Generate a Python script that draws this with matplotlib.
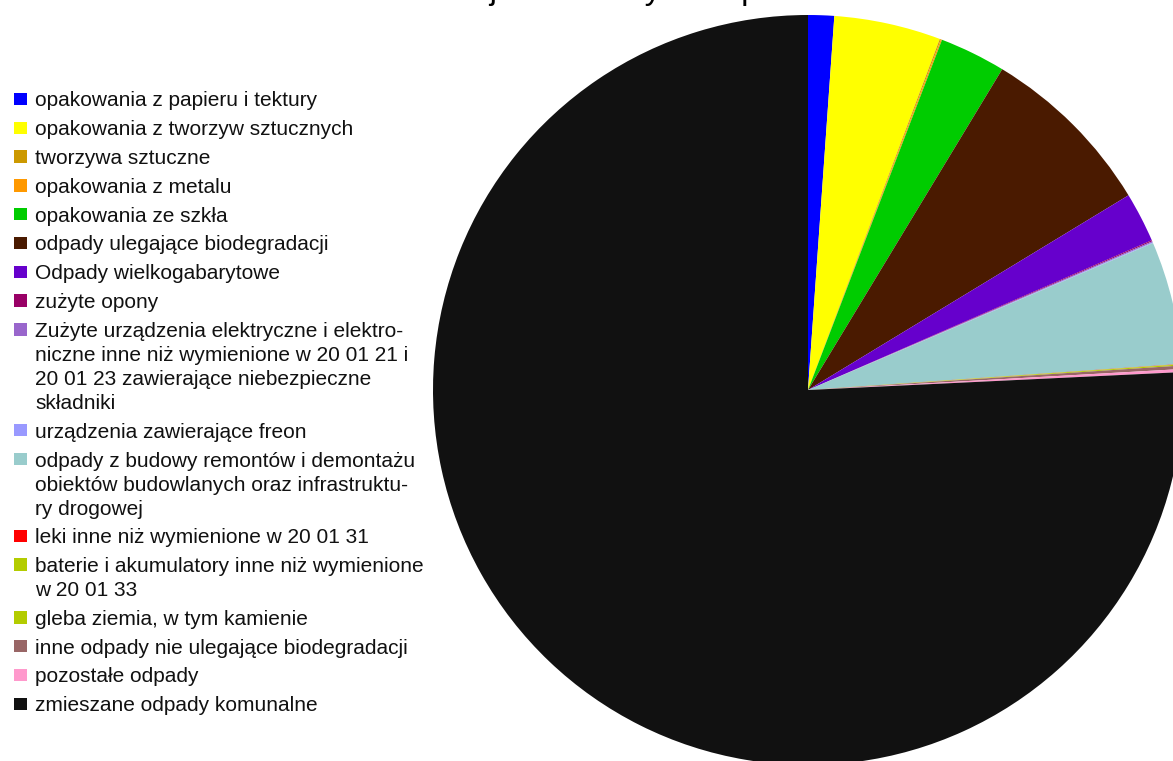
import matplotlib.pyplot as plt
from matplotlib.patches import Rectangle

plt.rcParams['font.family'] = ['Liberation Sans', 'DejaVu Sans']

title = "Rodzaje odebranych odpadów"

labels = [
    "opakowania z papieru i tektury",
    "opakowania z tworzyw sztucznych",
    "tworzywa sztuczne",
    "opakowania z metalu",
    "opakowania ze szkła",
    "odpady ulegające biodegradacji",
    "Odpady wielkogabarytowe",
    "zużyte opony",
    "Zużyte urządzenia elektryczne i elektro-\nniczne inne niż wymienione w 20 01 21 i\n20 01 23 zawierające niebezpieczne\nskładniki",
    "urządzenia zawierające freon",
    "odpady z budowy remontów i demontażu\nobiektów budowlanych oraz infrastruktu-\nry drogowej",
    "leki inne niż wymienione w 20 01 31",
    "baterie i akumulatory inne niż wymienione\nw 20 01 33",
    "gleba ziemia, w tym kamienie",
    "inne odpady nie ulegające biodegradacji",
    "pozostałe odpady",
    "zmieszane odpady komunalne",
]

# udział procentowy
values = [1.12, 4.6, 0.05, 0.05, 2.85, 7.65, 2.15, 0.05, 0.05, 0.03,
          5.3, 0.01, 0.01, 0.05, 0.15, 0.13, 75.8]

colors = ["#0000ff", "#ffff00", "#cc9900", "#ff9900", "#00cc00", "#4a1a00",
          "#6600cc", "#990066", "#9966cc", "#9999ff", "#99cccc", "#ff0000",
          "#b3cc00", "#b3cc00", "#996666", "#ff99cc", "#111111"]

W, H = 1173, 761
fig = plt.figure(figsize=(W / 100, H / 100), dpi=100)

# pie: center (808, 390) px, radius 375 px
cx, cy, r = 808, 390, 375
ax = fig.add_axes([(cx - r) / W, (H - cy - r) / H, 2 * r / W, 2 * r / H])
ax.pie(values, colors=colors, startangle=90, counterclock=False,
       wedgeprops=dict(linewidth=0, antialiased=True))
ax.set_xlim(-1, 1)
ax.set_ylim(-1, 1)
ax.set_aspect('auto')
ax.axis('off')

# title sits above the top edge, only descenders visible (as in the source)
fig.text(395 / W, 1 + 1 / H, title, fontsize=23.6, ha='left', va='baseline')

# legend drawn by hand so markers align with first line
y = 99
for lab, col in zip(labels, colors):
    fig.patches.append(Rectangle((14 / W, 1 - (y + 6.25) / H), 12.5 / W, 12.5 / H,
                                 transform=fig.transFigure, facecolor=col,
                                 edgecolor='none'))
    lines = lab.split("\n")
    for i, line in enumerate(lines):
        fig.text(35 / W, 1 - (y + i * 24) / H, line, fontsize=15,
                 ha='left', va='center_baseline', color='#111111')
    y += 28.8 + 24 * (len(lines) - 1)

fig.savefig("out.png", dpi=100)
